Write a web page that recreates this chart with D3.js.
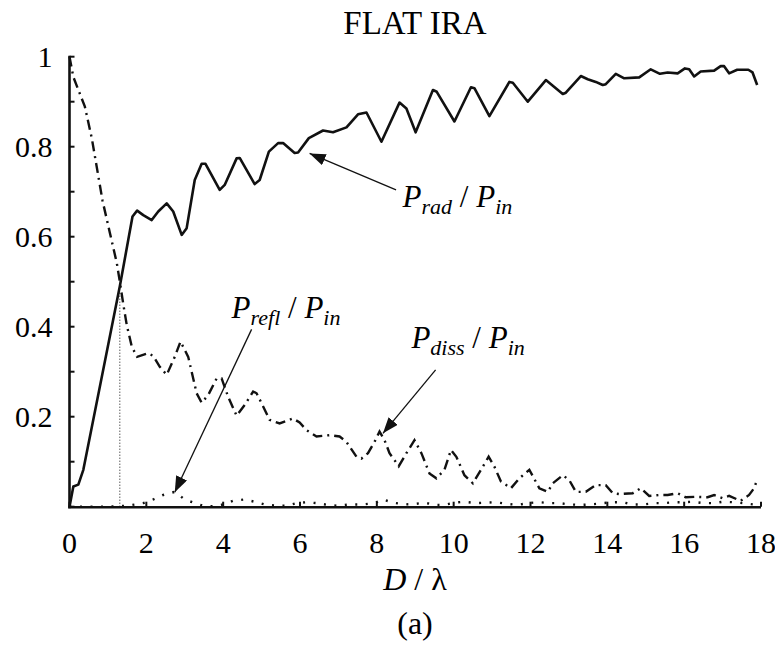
<!DOCTYPE html>
<html><head><meta charset="utf-8">
<script src="https://cdn.jsdelivr.net/npm/d3@7"></script>
</head>
<body style="margin:0"><svg id="s" width="775" height="646"></svg>
<script>
// ---- data ----
const radX = [0, 0.10, 0.23, 0.36, 1.31, 1.53, 1.64, 1.76, 1.92, 2.14, 2.31, 2.53, 2.70, 2.92, 3.05, 3.26, 3.44, 3.54, 3.91, 4.04, 4.35, 4.43, 4.82, 4.95, 5.19, 5.43, 5.56, 5.86, 5.95, 6.23, 6.60, 6.86, 7.21, 7.51, 7.73, 8.12, 8.59, 8.77, 9.01, 9.46, 9.56, 10.02, 10.45, 10.54, 10.93, 11.45, 11.54, 11.93, 12.40, 12.84, 12.92, 13.31, 13.49, 13.70, 13.88, 13.96, 14.22, 14.44, 14.83, 15.13, 15.37, 15.57, 15.83, 16.02, 16.13, 16.26, 16.43, 16.78, 16.95, 17.04, 17.17, 17.38, 17.67, 17.78, 17.90];
const radY = [0, 0.045, 0.049, 0.082, 0.49, 0.593, 0.645, 0.658, 0.648, 0.637, 0.656, 0.674, 0.656, 0.604, 0.619, 0.726, 0.762, 0.762, 0.704, 0.715, 0.774, 0.775, 0.717, 0.726, 0.789, 0.808, 0.808, 0.786, 0.787, 0.819, 0.836, 0.832, 0.843, 0.872, 0.876, 0.811, 0.898, 0.885, 0.832, 0.926, 0.922, 0.856, 0.932, 0.930, 0.868, 0.944, 0.942, 0.900, 0.948, 0.917, 0.920, 0.957, 0.950, 0.944, 0.937, 0.939, 0.962, 0.952, 0.954, 0.972, 0.962, 0.965, 0.963, 0.974, 0.972, 0.956, 0.967, 0.969, 0.979, 0.979, 0.963, 0.971, 0.971, 0.965, 0.937];

const dissX = [0, 0.1, 0.4, 0.58, 0.86, 1.05, 1.23, 1.31, 1.40, 1.49, 1.62, 1.76, 2.05, 2.18, 2.35, 2.53, 2.74, 2.89, 3.09, 3.31, 3.44, 3.61, 3.83, 3.96, 4.13, 4.35, 4.56, 4.78, 4.87, 5.00, 5.21, 5.47, 5.82, 5.99, 6.17, 6.43, 6.77, 7.03, 7.21, 7.47, 7.60, 7.77, 7.94, 8.07, 8.20, 8.33, 8.57, 8.77, 8.98, 9.16, 9.37, 9.55, 9.76, 9.93, 10.07, 10.28, 10.50, 10.71, 10.91, 11.06, 11.23, 11.49, 11.71, 11.97, 12.23, 12.45, 12.58, 12.84, 13.01, 13.18, 13.44, 13.70, 13.96, 14.14, 14.31, 14.66, 14.87, 15.09, 15.35, 15.57, 15.83, 16.04, 16.30, 16.61, 16.78, 17.00, 17.17, 17.47, 17.69, 17.82, 17.90];
const dissY = [1.0, 0.955, 0.889, 0.819, 0.68, 0.609, 0.542, 0.50, 0.45, 0.404, 0.356, 0.333, 0.341, 0.335, 0.311, 0.293, 0.333, 0.367, 0.333, 0.252, 0.231, 0.248, 0.285, 0.285, 0.244, 0.202, 0.226, 0.256, 0.252, 0.230, 0.193, 0.185, 0.196, 0.187, 0.170, 0.156, 0.159, 0.156, 0.144, 0.111, 0.107, 0.119, 0.144, 0.167, 0.148, 0.119, 0.090, 0.119, 0.148, 0.119, 0.074, 0.063, 0.082, 0.126, 0.111, 0.070, 0.052, 0.082, 0.111, 0.089, 0.056, 0.041, 0.063, 0.082, 0.041, 0.033, 0.052, 0.070, 0.059, 0.033, 0.033, 0.048, 0.048, 0.030, 0.028, 0.030, 0.041, 0.024, 0.026, 0.026, 0.030, 0.021, 0.022, 0.021, 0.026, 0.019, 0.024, 0.013, 0.026, 0.041, 0.060];

const reflX = [0, 0.5, 1.0, 1.5, 1.92, 2.18, 2.44, 2.74, 3.00, 3.26, 3.52, 3.75, 4.00, 4.26, 4.56, 4.82, 5.08, 5.39, 5.65, 5.91, 6.17, 6.43, 6.73, 6.99, 7.29, 7.64, 7.94, 8.16, 8.42, 8.72, 8.98, 9.24, 9.50, 9.76, 10.02, 10.28, 10.58, 10.84, 11.10, 11.41, 11.67, 11.93, 12.23, 12.49, 12.75, 13.01, 13.31, 13.57, 13.88, 14.14, 14.40, 14.66, 14.96, 15.22, 15.48, 15.74, 15.96, 16.22, 16.48, 16.78, 17.00, 17.26, 17.52, 17.90];
const reflY = [0, 0, 0, 0.002, 0.008, 0.016, 0.026, 0.033, 0.016, 0.008, 0.001, 0.001, 0.005, 0.013, 0.016, 0.011, 0.005, 0.002, 0.002, 0.008, 0.010, 0.008, 0.004, 0.002, 0.005, 0.005, 0.008, 0.016, 0.009, 0.005, 0.006, 0.009, 0.004, 0.004, 0.009, 0.011, 0.008, 0.009, 0.010, 0.006, 0.004, 0.008, 0.010, 0.008, 0.008, 0.005, 0.004, 0.005, 0.008, 0.010, 0.010, 0.005, 0.005, 0.008, 0.008, 0.010, 0.010, 0.011, 0.008, 0.008, 0.011, 0.010, 0.008, 0.004];

const xTicks = [0, 2, 4, 6, 8, 10, 12, 14, 16, 18];
const yTicks = [0, 0.1, 0.2, 0.3, 0.4, 0.5, 0.6, 0.7, 0.8, 0.9, 1.0];
const yLabels = ["", "", "0.2", "", "0.4", "", "0.6", "", "0.8", "", "1"];

const titleText = "FLAT IRA";
const captionText = "(a)";
const crossX = 1.31, crossY = 0.475;

// annotations: [sub, textX, textY, tailX, tailY, tipX, tipY]
const annotations = [
  ["rad", 8.67, 0.666, 8.50, 0.704, 6.25, 0.785],
  ["refl", 4.22, 0.419, 4.74, 0.394, 2.74, 0.032],
  ["diss", 8.90, 0.352, 9.53, 0.304, 8.16, 0.163]
];

// ---- drawing ----
const svg = d3.select("#s");
const x = d3.scaleLinear().domain([0, 18]).range([69.5, 761]);
const y = d3.scaleLinear().domain([0, 1]).range([506.7, 56.7]);

// every text drawn the same way: serif family set directly on the element
function addText(parent, px, py, size, anchor) {
  return parent.append("text").attr("x", px).attr("y", py)
    .style("font-family", '"Liberation Serif"').style("font-size", size + "px")
    .attr("text-anchor", anchor);
}

svg.append("defs").append("marker")
  .attr("id", "arrow").attr("markerUnits", "userSpaceOnUse")
  .attr("viewBox", "0 0 16 12").attr("refX", 16).attr("refY", 6)
  .attr("markerWidth", 16).attr("markerHeight", 12).attr("orient", "auto")
  .append("path").attr("d", "M0,0 L16,6 L0,12 Z").attr("fill", "#111");

// title
addText(svg, 415, 34, 33, "middle").text(titleText);

// axis lines
svg.append("line").attr("x1", x(0)).attr("x2", x(0)).attr("y1", y(1) - 1).attr("y2", y(0) + 1.5)
  .attr("stroke", "#111").attr("stroke-width", 2.6);
svg.append("line").attr("x1", x(0) - 1.3).attr("x2", x(18)).attr("y1", y(0) + 0.5).attr("y2", y(0) + 0.5)
  .attr("stroke", "#111").attr("stroke-width", 2.6);

// ticks (inward) and tick labels from scales
svg.selectAll(".ytick").data(yTicks).enter().append("line")
  .attr("x1", x(0)).attr("x2", x(0) + 5).attr("y1", d => y(d)).attr("y2", d => y(d))
  .attr("stroke", "#111").attr("stroke-width", 2);
yTicks.forEach((d, i) => {
  if (yLabels[i]) addText(svg, x(0) - 17, y(d), 30, "end").attr("dy", "0.34em").text(yLabels[i]);
});
svg.selectAll(".xtick").data(xTicks).enter().append("line")
  .attr("x1", d => x(d)).attr("x2", d => x(d)).attr("y1", y(0)).attr("y2", y(0) - 5)
  .attr("stroke", "#111").attr("stroke-width", 2);
xTicks.forEach(d => {
  addText(svg, x(d), y(0) + 46, 30, "middle").text(String(d));
});

// vertical dotted marker
svg.append("line").attr("x1", x(crossX)).attr("x2", x(crossX)).attr("y1", y(0)).attr("y2", y(crossY))
  .attr("stroke", "#111").attr("stroke-width", 1).attr("stroke-dasharray", "1,2");

const line = d3.line().x(d => x(d[0])).y(d => y(d[1]));
const rad = radX.map((v, i) => [v, radY[i]]);
const diss = dissX.map((v, i) => [v, dissY[i]]);
const refl = reflX.map((v, i) => [v, reflY[i]]);

svg.append("path").datum(refl).attr("d", line).attr("fill", "none")
  .attr("stroke", "#111").attr("stroke-width", 2.4).attr("stroke-dasharray", "2,8.5");
svg.append("path").datum(diss).attr("d", line).attr("fill", "none")
  .attr("stroke", "#111").attr("stroke-width", 2.4).attr("stroke-dasharray", "10,5,2,5");
svg.append("path").datum(rad).attr("d", line).attr("fill", "none")
  .attr("stroke", "#111").attr("stroke-width", 2.6).attr("stroke-linejoin", "round");

// annotations
annotations.forEach(a => {
  svg.append("line").attr("x1", x(a[3])).attr("y1", y(a[4])).attr("x2", x(a[5])).attr("y2", y(a[6]))
    .attr("stroke", "#111").attr("stroke-width", 1.3).attr("marker-end", "url(#arrow)");
  const t = addText(svg, x(a[1]), y(a[2]), 31, "start");
  t.append("tspan").style("font-style", "italic").text("P");
  t.append("tspan").style("font-style", "italic").style("font-size", "22px").attr("dy", 7).text(a[0]);
  t.append("tspan").attr("dy", -7).text(" / ");
  t.append("tspan").style("font-style", "italic").text("P");
  t.append("tspan").style("font-style", "italic").style("font-size", "22px").attr("dy", 7).text("in");
});

// axis title
const xt = addText(svg, 415, 590, 32, "middle");
xt.append("tspan").style("font-style", "italic").text("D");
xt.append("tspan").text(" / λ");

addText(svg, 415, 634, 32, "middle").text(captionText);
</script></body></html>
